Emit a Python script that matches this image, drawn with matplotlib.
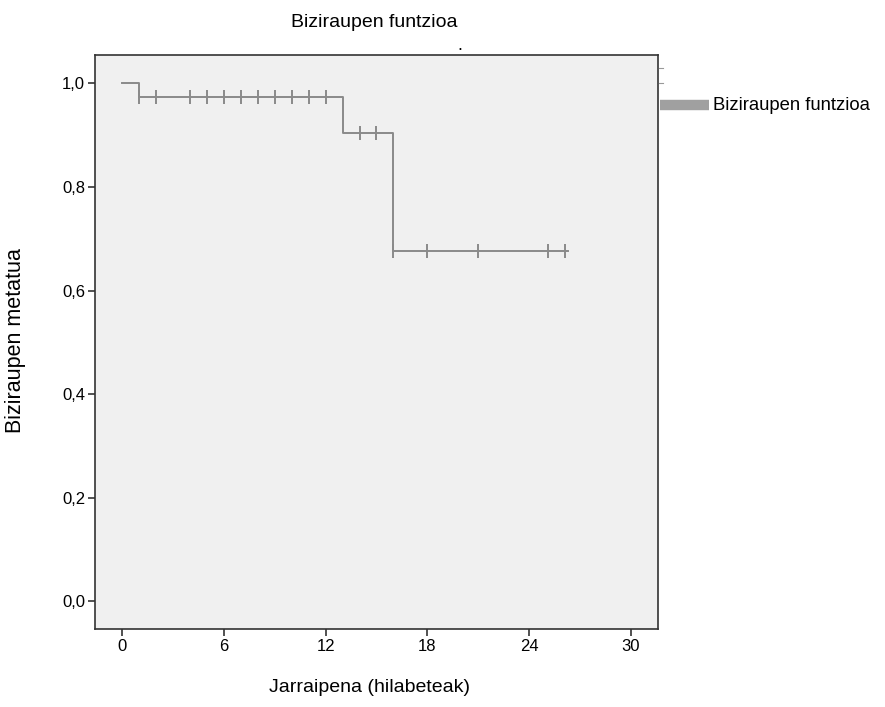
import numpy as np
import matplotlib.pyplot as plt

plt.rcParams['font.family'] = ['Liberation Sans', 'DejaVu Sans']

# survival step function (months, cumulative survival)
step_t = [0, 1, 13, 16, 26.3]
step_s = [1.0, 0.973, 0.905, 0.677, 0.677]
# censored cases
cens_t = [1, 2, 4, 5, 6, 7, 8, 9, 10, 11, 12, 14, 15, 16, 18, 21, 25.1, 26.1]
cens_s = [0.973] * 11 + [0.905] * 2 + [0.677] * 5

xticks = [0, 6, 12, 18, 24, 30]
yticks = [0.0, 0.2, 0.4, 0.6, 0.8, 1.0]
ylabels = ['0,0', '0,2', '0,4', '0,6', '0,8', '1,0']

fig = plt.figure(figsize=(8.85, 7.07), dpi=100)
ax = fig.add_axes([0.1073, 0.110, 0.6362, 0.812])
ax.set_facecolor('#f0f0f0')

line_col = '#8a8a8a'
ax.step(step_t, step_s, where='post', color=line_col, lw=1.4)
ax.plot(cens_t, cens_s, ls='none', marker='|', ms=10, mew=1.4, color=line_col)

ax.set_xlim(-1.6, 31.6)
ax.set_ylim(-0.054, 1.0547)
ax.set_xticks(xticks)
ax.set_xticklabels([str(v) for v in xticks], fontsize=12)
ax.set_yticks(yticks)
ax.set_yticklabels(ylabels, fontsize=12)
ax.tick_params(direction='out', length=5, width=1.2, color='#333333', pad=2)
for sp in ax.spines.values():
    sp.set_color('#333333')
    sp.set_linewidth(1.2)

fig.text(0.418, 0.027, 'Jarraipena (hilabeteak)', ha='center', va='center', fontsize=14)
fig.text(0.018, 0.519, 'Biziraupen metatua', ha='center', va='center',
         rotation=90, fontsize=15.5)
fig.text(0.423, 0.968, 'Biziraupen funtzioa', ha='center', va='center', fontsize=14)
fig.text(0.52, 0.935, '.', ha='center', va='center', fontsize=13)

# small marks just right of the frame
for yy in (0.904, 0.883):
    fig.add_artist(plt.Line2D([0.745, 0.749], [yy, yy], color='#999999', lw=0.8))

# legend entry outside the plot
fig.add_artist(plt.Line2D([0.746, 0.801], [0.851, 0.851], color='#a0a0a0', lw=7.5,
                          solid_capstyle='butt'))
fig.text(0.806, 0.851, 'Biziraupen funtzioa', ha='left', va='center', fontsize=13.3)

fig.savefig('out.png', dpi=100)
